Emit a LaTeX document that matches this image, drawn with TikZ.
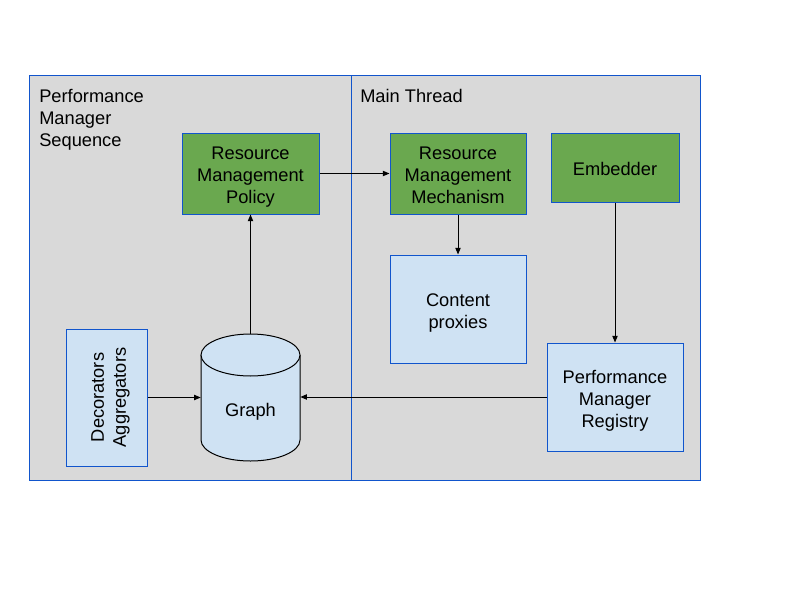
\documentclass[tikz,border=0pt]{standalone}
\usepackage{fontspec}
\setmainfont{Liberation Sans}
\usetikzlibrary{arrows.meta}
\definecolor{panel}{HTML}{D9D9D9}
\definecolor{edge}{HTML}{1155CC}
\definecolor{grn}{HTML}{6AA84F}
\definecolor{lblue}{HTML}{CFE2F3}
\newcommand\topst{\rule{0pt}{17.5pt}}
\newcommand\botst{\rule[-5pt]{0pt}{5pt}}
\begin{document}
\begin{tikzpicture}[x=0.75pt,y=-0.75pt,
  every node/.style={font=\fontsize{13.7pt}{16.5pt}\selectfont},
  panelbox/.style={draw=edge,fill=panel,line width=0.75pt},
  greenbox/.style={draw=edge,fill=grn,line width=0.75pt,align=center,inner sep=0pt},
  bluebox/.style={draw=edge,fill=lblue,line width=0.75pt,align=center,inner sep=0pt},
  conn/.style={line width=0.75pt,-{Triangle[length=5pt,width=4pt]}},
  heading/.style={anchor=north west,inner sep=0pt,align=left}
]
\useasboundingbox (0,0) rectangle (800,600);
\fill[white] (0,0) rectangle (800,600);
% panels
\draw[panelbox] (29.5,75.5) rectangle (351.5,480.5);
\draw[panelbox] (351.5,75.5) rectangle (700.5,480.5);
\node[heading] (seqlabel) at (39,88.6) {Performance\\Manager\\Sequence};
\node[heading] (mainlabel) at (360,88.6) {Main Thread};
% boxes
\node[greenbox,minimum width=102.75pt,minimum height=60.75pt] (policy) at (250.5,173.5) {\topst Resource\\Management\\Policy\botst};
\node[greenbox,minimum width=102pt,minimum height=60.75pt] (mech) at (458,173.5) {\topst Resource\\Management\\Mechanism\botst};
\node[greenbox,minimum width=96pt,minimum height=51.75pt] (emb) at (615,167.5) {\topst Embedder\botst};
\node[bluebox,minimum width=102pt,minimum height=81pt] (proxies) at (458,309) {\topst Content\\proxies\botst};
\node[bluebox,minimum width=102pt,minimum height=81pt] (reg) at (615,397) {\topst Performance\\Manager\\Registry\botst};
\node[bluebox,rotate=90,minimum width=102.75pt,minimum height=60.75pt] (dec) at (106.5,397.5) {\topst Decorators\\Aggregators\botst};
% graph cylinder
\filldraw[fill=lblue,draw=black,line width=0.75pt] (201,355) -- (201,440)
  arc[start angle=180,end angle=360,x radius=37.125pt,y radius=15.75pt] -- (300,355);
\filldraw[fill=lblue,draw=black,line width=0.75pt] (250.5,355) ellipse [x radius=37.125pt,y radius=15.75pt];
\node[inner sep=0pt,minimum width=74.25pt,minimum height=95.25pt] (graph) at (250.5,397.5) {};
\node[inner sep=0pt] (graphlabel) at (250.5,408) {\topst Graph\botst};
% connectors
\draw[conn] (policy.east) -- (mech.west);
\draw[conn] (mech.south) -- (proxies.north);
\draw[conn] (emb.south) -- (reg.north);
\draw[conn] (reg.west) -- (reg.west -| graph.east);
\draw[conn] (dec.south) -- (dec.south -| graph.west);
\draw[conn] (graph.north) -- (policy.south);
\end{tikzpicture}
\end{document}
